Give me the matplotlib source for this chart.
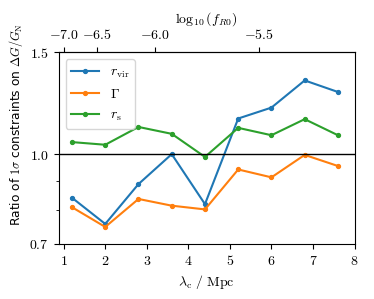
import numpy as np
import matplotlib
matplotlib.use("Agg")
import matplotlib.pyplot as plt
from matplotlib.ticker import FuncFormatter, NullFormatter, FixedLocator

plt.rcParams['mathtext.fontset'] = 'cm'
plt.rcParams['font.size'] = 10

# lambda_c in Mpc
lam_c = [1.2, 2.0, 2.8, 3.6, 4.4, 5.2, 6.0, 6.8, 7.6]

# ratio of 1 sigma constraints
r_vir = [0.841, 0.758, 0.888, 1.000, 0.820, 1.152, 1.203, 1.340, 1.280]
gamma = [0.810, 0.749, 0.837, 0.815, 0.803, 0.941, 0.912, 0.997, 0.954]
r_s = [1.049, 1.038, 1.114, 1.084, 0.989, 1.110, 1.078, 1.149, 1.078]

top_ticks = [-7.0, -6.5, -6.0, -5.5]


def lam_to_logf(lam):
    lam = np.asarray(lam, dtype=float)
    return 2 * np.log10(np.clip(lam, 1e-6, None) / 32.0) - 4


def logf_to_lam(logf):
    return 32.0 * 10 ** ((np.asarray(logf, dtype=float) + 4) / 2)


fig = plt.figure(figsize=(3.74, 2.99), dpi=100)
ax = fig.add_axes([0.157, 0.184, 0.791, 0.642])

ax.plot(lam_c, r_vir, '-o', color='C0', ms=2.8, lw=1.5, label=r'$r_{\rm vir}$')
ax.plot(lam_c, gamma, '-o', color='C1', ms=2.8, lw=1.5, label=r'$\Gamma$')
ax.plot(lam_c, r_s, '-o', color='C2', ms=2.8, lw=1.5, label=r'$r_{\rm s}$')
ax.axhline(1.0, color='k', lw=1)

ax.set_yscale('log')
ax.set_ylim(0.7, 1.5)
ax.set_xlim(0.88, 8)
ax.yaxis.set_major_locator(FixedLocator([0.7, 1.0, 1.5]))
ax.yaxis.set_major_formatter(FuncFormatter(lambda v, p: f'${v:.1f}$'))
ax.yaxis.set_minor_formatter(NullFormatter())
ax.xaxis.set_major_locator(FixedLocator(range(1, 9)))
ax.xaxis.set_major_formatter(FuncFormatter(lambda v, p: f'${v:g}$'))

ax.set_xlabel(r'$\lambda_{\rm c}\ /\ {\rm Mpc}$')
ax.set_ylabel(r'Ratio of $1\sigma$ constraints on $\Delta G/G_{\rm N}$', fontsize=8.8)
ax.yaxis.set_label_coords(-0.115, 0.62)

sec = ax.secondary_xaxis('top', functions=(lam_to_logf, logf_to_lam))
sec.xaxis.set_major_locator(FixedLocator(top_ticks))
sec.xaxis.set_major_formatter(FuncFormatter(lambda v, p: f'${v:.1f}$'))
sec.xaxis.set_minor_formatter(NullFormatter())
sec.minorticks_off()
sec.set_xlabel(r'$\log_{10}(f_{R0})$')

ax.legend(loc='upper left')

fig.savefig('out.png', dpi=100)
